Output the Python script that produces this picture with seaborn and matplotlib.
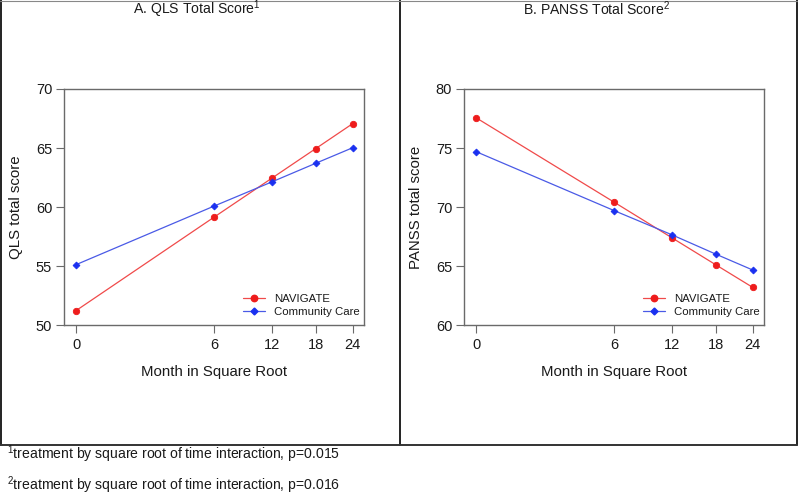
import numpy as np
import pandas as pd
import matplotlib
matplotlib.use("Agg")
import matplotlib.pyplot as plt
import seaborn as sns
from matplotlib.lines import Line2D

months = [0, 6, 12, 18, 24]
qls_navigate = [51.24, 59.17, 62.44, 64.95, 67.07]
qls_community = [55.13, 60.10, 62.13, 63.71, 65.03]
panss_navigate = [77.57, 70.41, 67.42, 65.13, 63.21]
panss_community = [74.70, 69.70, 67.67, 66.03, 64.68]
groups = ["NAVIGATE", "Community Care"]
titles = ["A. QLS Total Score$^{1}$", "B. PANSS Total Score$^{2}$"]
ylabels = ["QLS total score", "PANSS total score"]
yticks_list = [[50, 55, 60, 65, 70], [60, 65, 70, 75, 80]]
footnotes = ["treatment by square root of time interaction, p=0.015",
             "treatment by square root of time interaction, p=0.016"]

sns.set_theme(style="white")
plt.rcParams['font.family'] = ['Liberation Sans', 'DejaVu Sans']
plt.rcParams['mathtext.fontset'] = 'custom'
plt.rcParams['mathtext.rm'] = 'Liberation Sans'
plt.rcParams['mathtext.it'] = 'Liberation Sans'
plt.rcParams['mathtext.bf'] = 'Liberation Sans'

line_colors = {"NAVIGATE": "#f04a4a", "Community Care": "#4a5ae6"}
mk_colors = {"NAVIGATE": "#ee1c1c", "Community Care": "#1a30f0"}
markers = {"NAVIGATE": "o", "Community Care": "D"}
msizes = {"NAVIGATE": 4.6, "Community Care": 3.5}

fig = plt.figure(figsize=(8, 4.95), dpi=100)

def fwd(x):
    x = np.asarray(x, dtype=float)
    return np.sign(x) * np.sqrt(np.abs(x))

def inv(y):
    y = np.asarray(y, dtype=float)
    return np.sign(y) * y ** 2

W, H = 800.0, 495.0
panels = [(qls_navigate, qls_community), (panss_navigate, panss_community)]
gray = "#6a6a6a"
for i, (nav, com) in enumerate(panels):
    x0 = 64 + 400 * i
    ax = fig.add_axes([x0 / W, 1 - 325.3 / H, 300 / W, 236.3 / H])
    df = pd.DataFrame({
        "month": months * 2,
        "score": list(nav) + list(com),
        "group": [groups[0]] * 5 + [groups[1]] * 5,
    })
    handles = []
    for g in groups:
        sub = df[df["group"] == g]
        sns.lineplot(data=sub, x="month", y="score", ax=ax, color=line_colors[g],
                     marker=markers[g], markersize=msizes[g],
                     markerfacecolor=mk_colors[g], markeredgecolor=mk_colors[g],
                     markeredgewidth=0.6, linewidth=0.9, legend=False)
        handles.append(Line2D([], [], color=line_colors[g], marker=markers[g],
                              markersize=msizes[g], markerfacecolor=mk_colors[g],
                              markeredgecolor=mk_colors[g], linewidth=0.9, label=g))
    ax.set_xscale('function', functions=(fwd, inv))
    ax.set_xlim(-(0.2125 ** 2), 5.099 ** 2)
    yt = yticks_list[i]
    ax.set_ylim(yt[0], yt[-1])
    ax.set_xticks(months)
    ax.set_xticklabels([str(m) for m in months])
    ax.set_yticks(yt)
    ax.set_yticklabels([str(v) for v in yt])
    ax.tick_params(axis='both', which='both', direction='out', length=5.5,
                   width=0.8, color=gray, labelsize=10.5, labelcolor="#1a1a1a",
                   left=True, bottom=True, pad=3)
    ax.tick_params(axis='x', pad=4)
    ax.minorticks_off()
    for s in ax.spines.values():
        s.set_color(gray)
        s.set_linewidth(1.0)
    ax.set_xlabel("Month in Square Root", fontsize=10.8, color="#1a1a1a")
    ax.xaxis.set_label_coords(0.5, -0.168)
    ax.set_ylabel(ylabels[i], fontsize=10.8, color="#1a1a1a")
    ax.yaxis.set_label_coords(-0.135, 0.5)
    leg = ax.legend(handles=handles, loc='center left',
                    bbox_to_anchor=(0.597, 0.084), frameon=False,
                    fontsize=8.2, handlelength=1.9, handletextpad=0.8,
                    labelspacing=0.22, borderpad=0, borderaxespad=0)
    for t in leg.get_texts():
        t.set_color("#1a1a1a")
    fig.text((197 + 400 * i) / W, 1 - 14.5 / H, titles[i], ha='center',
             va='baseline', fontsize=10.1, color="#1a1a1a")

# outer panel boxes
box_color = "#222222"
lw = 1.4
R = 797.0
fig.add_artist(Line2D([0.5 / W, 0.5 / W], [1, 1 - 445 / H], transform=fig.transFigure, color=box_color, lw=lw))
fig.add_artist(Line2D([R / W, R / W], [1, 1 - 445 / H], transform=fig.transFigure, color=box_color, lw=lw))
fig.add_artist(Line2D([400 / W, 400 / W], [1, 1 - 445 / H], transform=fig.transFigure, color=box_color, lw=lw))
fig.add_artist(Line2D([0, R / W], [1 - 445 / H, 1 - 445 / H], transform=fig.transFigure, color="#333333", lw=lw))
fig.add_artist(Line2D([0, R / W], [1 - 0.5 / H, 1 - 0.5 / H], transform=fig.transFigure, color="#888888", lw=0.8))

fig.text(7 / W, 1 - 459 / H, "$^{1}$" + footnotes[0], ha='left', va='baseline',
         fontsize=10.1, color="#1a1a1a")
fig.text(7 / W, 1 - 489.5 / H, "$^{2}$" + footnotes[1], ha='left', va='baseline',
         fontsize=10.1, color="#1a1a1a")

fig.savefig("out.png", dpi=100)
